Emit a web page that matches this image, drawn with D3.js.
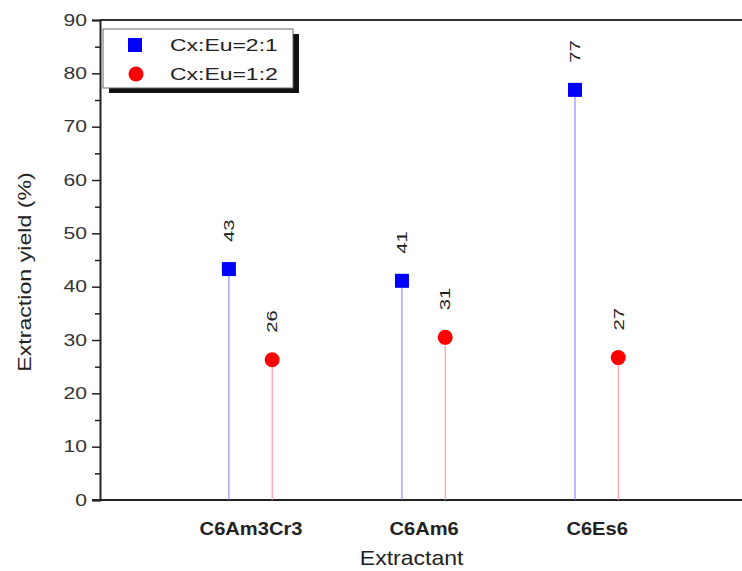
<!DOCTYPE html>
<html>
<head>
<meta charset="utf-8">
<script src="https://cdn.jsdelivr.net/npm/d3@7"></script>
<style>
  html, body { margin: 0; padding: 0; background: #fff; }
  svg { display: block; }
</style>
</head>
<body>
<svg id="chart" width="742" height="571"></svg>
<script>
const categories = ["C6Am3Cr3", "C6Am6", "C6Es6"];
const seriesNames = ["Cx:Eu=2:1", "Cx:Eu=1:2"];
const series21 = [43.3, 41.1, 76.9];
const series12 = [26.3, 30.5, 26.7];
const labels21 = ["43", "41", "77"];
const labels12 = ["26", "31", "27"];
const yTicks = [0, 10, 20, 30, 40, 50, 60, 70, 80, 90];
const yMinorTicks = [5, 15, 25, 35, 45, 55, 65, 75, 85];

const svg = d3.select("#chart");
const mLeft = 100, mRight = 742, mTop = 20, mBottom = 500;

const x = d3.scaleLinear().domain([0.13, 3.84]).range([mLeft, mRight]);
const y = d3.scaleLinear().domain([0, 90]).range([mBottom, mTop]);
const off = 0.125;

const font = "'Liberation Sans', Arial, sans-serif";
const SX = 1.32; // wide text look of the original

// stretch text horizontally (along its own direction) keeping its anchor point
function stretchTicks(sel, sx) {
  sel.each(function () {
    const t = d3.select(this);
    const xv = +t.attr("x") || 0;
    t.attr("x", xv / sx).attr("transform", `scale(${sx},1)`);
  });
}

// frame line: top
svg.append("line").attr("x1", mLeft).attr("x2", mRight).attr("y1", mTop).attr("y2", mTop)
  .attr("stroke", "#333").attr("stroke-width", 2);

// y axis
const yAxis = d3.axisLeft(y).tickValues(yTicks).tickSize(8).tickPadding(5).tickFormat(d3.format("d"));
const yg = svg.append("g").attr("transform", `translate(${mLeft},0)`).call(yAxis);
yg.select(".domain").attr("stroke", "#222").attr("stroke-width", 2);
yg.selectAll(".tick line").attr("stroke", "#222").attr("stroke-width", 1.5);
yg.selectAll(".tick text").attr("font-family", font).attr("font-size", 16).attr("fill", "#333");
stretchTicks(yg.selectAll(".tick text"), SX);
const yMinor = d3.axisLeft(y).tickValues(yMinorTicks).tickSize(5).tickFormat("");
const ymg = svg.append("g").attr("transform", `translate(${mLeft},0)`).call(yMinor);
ymg.select(".domain").remove();
ymg.selectAll(".tick line").attr("stroke", "#222").attr("stroke-width", 1.5);

// x axis
const xAxis = d3.axisBottom(x).tickValues([1, 2, 3]).tickSize(0).tickPadding(22)
  .tickFormat((d, i) => categories[i]);
const xg = svg.append("g").attr("transform", `translate(0,${mBottom})`).call(xAxis);
xg.select(".domain").attr("stroke", "#222").attr("stroke-width", 2)
  .attr("d", `M${mLeft - 8},0H${mRight}`);
xg.selectAll(".tick text").attr("font-family", font).attr("font-size", 19)
  .attr("font-weight", "bold").attr("fill", "#222");
stretchTicks(xg.selectAll(".tick text"), 1.06);

// axis titles
svg.append("text").attr("transform", `translate(${x(2) - 12},565) scale(1.15,1)`)
  .attr("text-anchor", "middle")
  .attr("font-family", font).attr("font-size", 20).attr("fill", "#222").text("Extractant");
svg.append("text").attr("transform", `translate(31,272) rotate(-90) scale(1.22,1)`)
  .attr("text-anchor", "middle").attr("font-family", font).attr("font-size", 19)
  .attr("fill", "#222").text("Extraction yield (%)");

// stems
const g = svg.append("g");
categories.forEach((c, i) => {
  g.append("line").attr("x1", x(i + 1 - off)).attr("x2", x(i + 1 - off))
    .attr("y1", y(0)).attr("y2", y(series21[i])).attr("stroke", "#7a7aff").attr("stroke-width", 1);
  g.append("line").attr("x1", x(i + 1 + off)).attr("x2", x(i + 1 + off))
    .attr("y1", y(0)).attr("y2", y(series12[i])).attr("stroke", "#ff8a9a").attr("stroke-width", 1);
});
// markers
categories.forEach((c, i) => {
  g.append("rect").attr("x", x(i + 1 - off) - 7).attr("y", y(series21[i]) - 7)
    .attr("width", 14).attr("height", 14).attr("fill", "#0000ff");
  g.append("circle").attr("cx", x(i + 1 + off)).attr("cy", y(series12[i])).attr("r", 7.5)
    .attr("fill", "#ff0000");
});
// value labels
function valLabel(xv, yv, t) {
  g.append("text").attr("transform", `translate(${xv},${yv - 27}) rotate(-90) scale(1.35,1)`)
    .attr("dy", "0.35em").attr("text-anchor", "start")
    .attr("font-family", font).attr("font-size", 15).attr("fill", "#222").text(t);
}
categories.forEach((c, i) => {
  valLabel(x(i + 1 - off), y(series21[i]), labels21[i]);
  valLabel(x(i + 1 + off), y(series12[i]), labels12[i]);
});

// legend
const lg = svg.append("g");
const lx = 103, ly = 29, lw = 190, lh = 59;
lg.append("rect").attr("x", lx + 6).attr("y", ly + 5).attr("width", lw).attr("height", lh).attr("fill", "#111");
lg.append("rect").attr("x", lx).attr("y", ly).attr("width", lw).attr("height", lh)
  .attr("fill", "#fff").attr("stroke", "#666").attr("stroke-width", 1);
lg.append("rect").attr("x", lx + 25).attr("y", ly + 9).attr("width", 14).attr("height", 14).attr("fill", "#0000ff");
lg.append("circle").attr("cx", lx + 33).attr("cy", ly + 45).attr("r", 7.5).attr("fill", "#ff0000");
seriesNames.forEach((s, i) => {
  lg.append("text").attr("transform", `translate(${lx + 67},${ly + 16 + i * 29}) scale(1.35,1)`)
    .attr("dy", "0.35em")
    .attr("font-family", font).attr("font-size", 17).attr("fill", "#222").text(s);
});
</script>
</body>
</html>
